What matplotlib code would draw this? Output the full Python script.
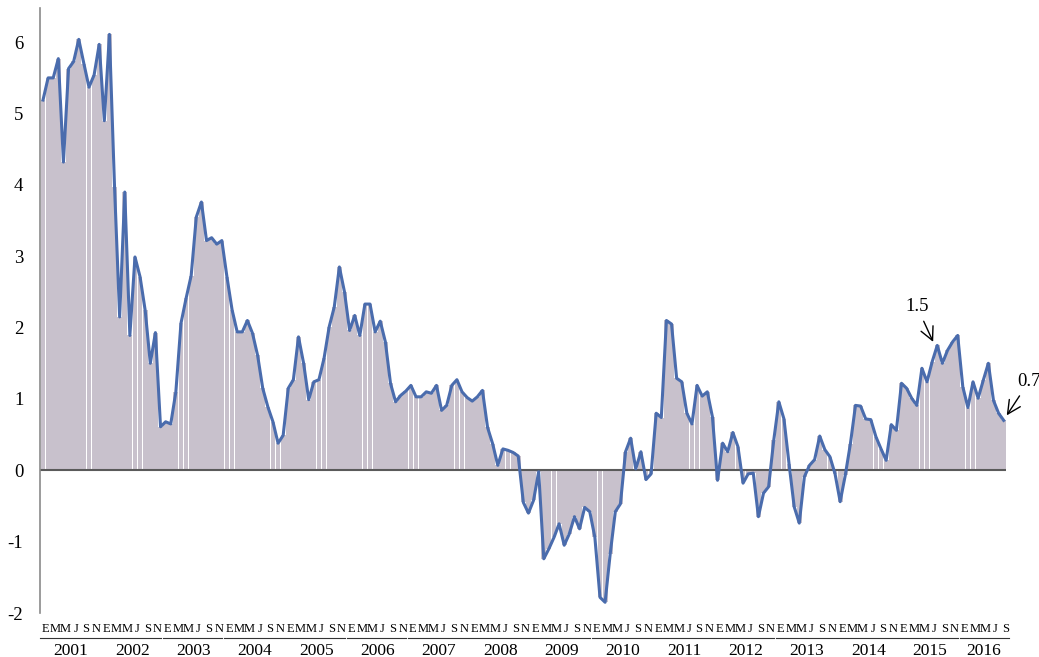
import matplotlib
matplotlib.use("Agg")
import matplotlib.pyplot as plt
import matplotlib.transforms as mtransforms

years = list(range(2001, 2017))
month_letters = ["E", "M", "M", "J", "S", "N"]
yticks = [-2, -1, 0, 1, 2, 3, 4, 5, 6]

v2001 = [5.19, 5.50, 5.50, 5.77, 4.32, 5.63, 5.73, 6.04, 5.70, 5.37, 5.54, 5.97]
v2002 = [4.90, 6.11, 3.97, 2.15, 3.90, 1.89, 2.99, 2.71, 2.24, 1.50, 1.93, 0.61]
v2003 = [0.68, 0.65, 1.10, 2.06, 2.41, 2.73, 3.55, 3.76, 3.22, 3.26, 3.17, 3.22]
v2004 = [2.71, 2.25, 1.94, 1.94, 2.10, 1.92, 1.61, 1.15, 0.89, 0.68, 0.38, 0.49]
v2005 = [1.15, 1.27, 1.87, 1.50, 0.99, 1.24, 1.27, 1.57, 2.01, 2.29, 2.85, 2.50]
v2006 = [1.96, 2.17, 1.89, 2.33, 2.33, 1.94, 2.09, 1.80, 1.22, 0.96, 1.05, 1.11]
v2007 = [1.19, 1.03, 1.03, 1.10, 1.08, 1.19, 0.84, 0.91, 1.19, 1.27, 1.10, 1.02]
v2008 = [0.97, 1.03, 1.12, 0.60, 0.37, 0.07, 0.30, 0.28, 0.25, 0.20, -0.45, -0.60]
v2009 = [-0.42, -0.02, -1.24, -1.10, -0.94, -0.75, -1.05, -0.89, -0.65, -0.82, -0.52, -0.58]
v2010 = [-0.94, -1.78, -1.85, -1.17, -0.58, -0.47, 0.26, 0.45, 0.02, 0.26, -0.13, -0.05]
v2011 = [0.80, 0.74, 2.10, 2.05, 1.29, 1.24, 0.80, 0.65, 1.19, 1.04, 1.10, 0.75]
v2012 = [-0.14, 0.38, 0.26, 0.53, 0.33, -0.18, -0.05, -0.04, -0.65, -0.32, -0.23, 0.42]
v2013 = [0.96, 0.72, 0.09, -0.51, -0.74, -0.09, 0.07, 0.15, 0.48, 0.29, 0.19, -0.05]
v2014 = [-0.44, -0.07, 0.37, 0.91, 0.90, 0.72, 0.71, 0.47, 0.30, 0.14, 0.64, 0.56]
v2015 = [1.22, 1.15, 1.01, 0.91, 1.43, 1.24, 1.52, 1.75, 1.50, 1.68, 1.80, 1.89]
v2016 = [1.17, 0.88, 1.24, 1.01, 1.26, 1.50, 0.98, 0.80, 0.70]

by_year = [v2001, v2002, v2003, v2004, v2005, v2006, v2007, v2008,
           v2009, v2010, v2011, v2012, v2013, v2014, v2015, v2016]
values = [v for yv in by_year for v in yv]
x = list(range(len(values)))

plt.rcParams["font.family"] = ["Liberation Serif", "DejaVu Serif"]

fig = plt.figure(figsize=(10.39, 6.57), dpi=100)
W, H = 1039, 657
# x(i) = 43 + 5.11 i  (pixels); y(v) = 470 - 71.3 v
px_left, px_right = 40, 1035
ax = fig.add_axes([px_left / W, (H - 613) / H, (px_right - px_left) / W, (613 - 8) / H])
ax.set_xlim((px_left - 43) / 5.11, (px_right - 43) / 5.11)
ax.set_ylim(-2.0, (470 - 8) / 71.3)

ax.bar(x, values, width=0.94, color="#c8c1cc", edgecolor="none", zorder=1)
ax.plot(x, values, color="#4a6cad", lw=2.2, zorder=3)
ax.hlines(0, -0.5, len(values) - 0.5, color="#5a5a5a", lw=1.5, zorder=2)

for s in ["top", "right", "bottom"]:
    ax.spines[s].set_visible(False)
ax.spines["left"].set_color("#8a8a8a")
ax.spines["left"].set_linewidth(1.2)
ax.set_yticks(yticks)
ax.set_yticklabels([str(t) for t in yticks], fontsize=13.5)
ax.tick_params(axis="y", length=0, pad=12)
ax.set_xticks([])

trans = mtransforms.blended_transform_factory(ax.transData, ax.transAxes)
axh = 613 - 8
y_month = -(629.5 - 613) / axh
y_line = -(637.5 - 613) / axh
y_year = -(651 - 613) / axh
start = 0
for yr, yv in zip(years, by_year):
    n = len(yv)
    for k, letter in enumerate(month_letters):
        m = 2 * k
        if m < n:
            ax.text(start + m + 0.4, y_month, letter, transform=trans, ha="center",
                    va="center", fontsize=9, clip_on=False)
    last = min(10, n - 1)
    ax.plot([start - 0.6, start + last + 1.1], [y_line, y_line], transform=trans,
            color="#333333", lw=0.8, clip_on=False)
    ax.text(start + (n - 1) / 2, y_year, str(yr), transform=trans, ha="center",
            va="center", fontsize=12.5, clip_on=False)
    start += n

arrow = dict(arrowstyle="->,head_length=0.7,head_width=0.35", color="black",
             lw=1.0, shrinkA=3, shrinkB=0)
ax.annotate("1.5", xy=(174.2, 1.80), xytext=(171.0, 2.30), fontsize=13.5,
            ha="center", va="center", arrowprops=arrow)
ax.annotate("0.7", xy=(188.6, 0.77), xytext=(193.0, 1.25), fontsize=13.5,
            ha="center", va="center", annotation_clip=False, arrowprops=arrow)

fig.savefig("out.png", dpi=100)
